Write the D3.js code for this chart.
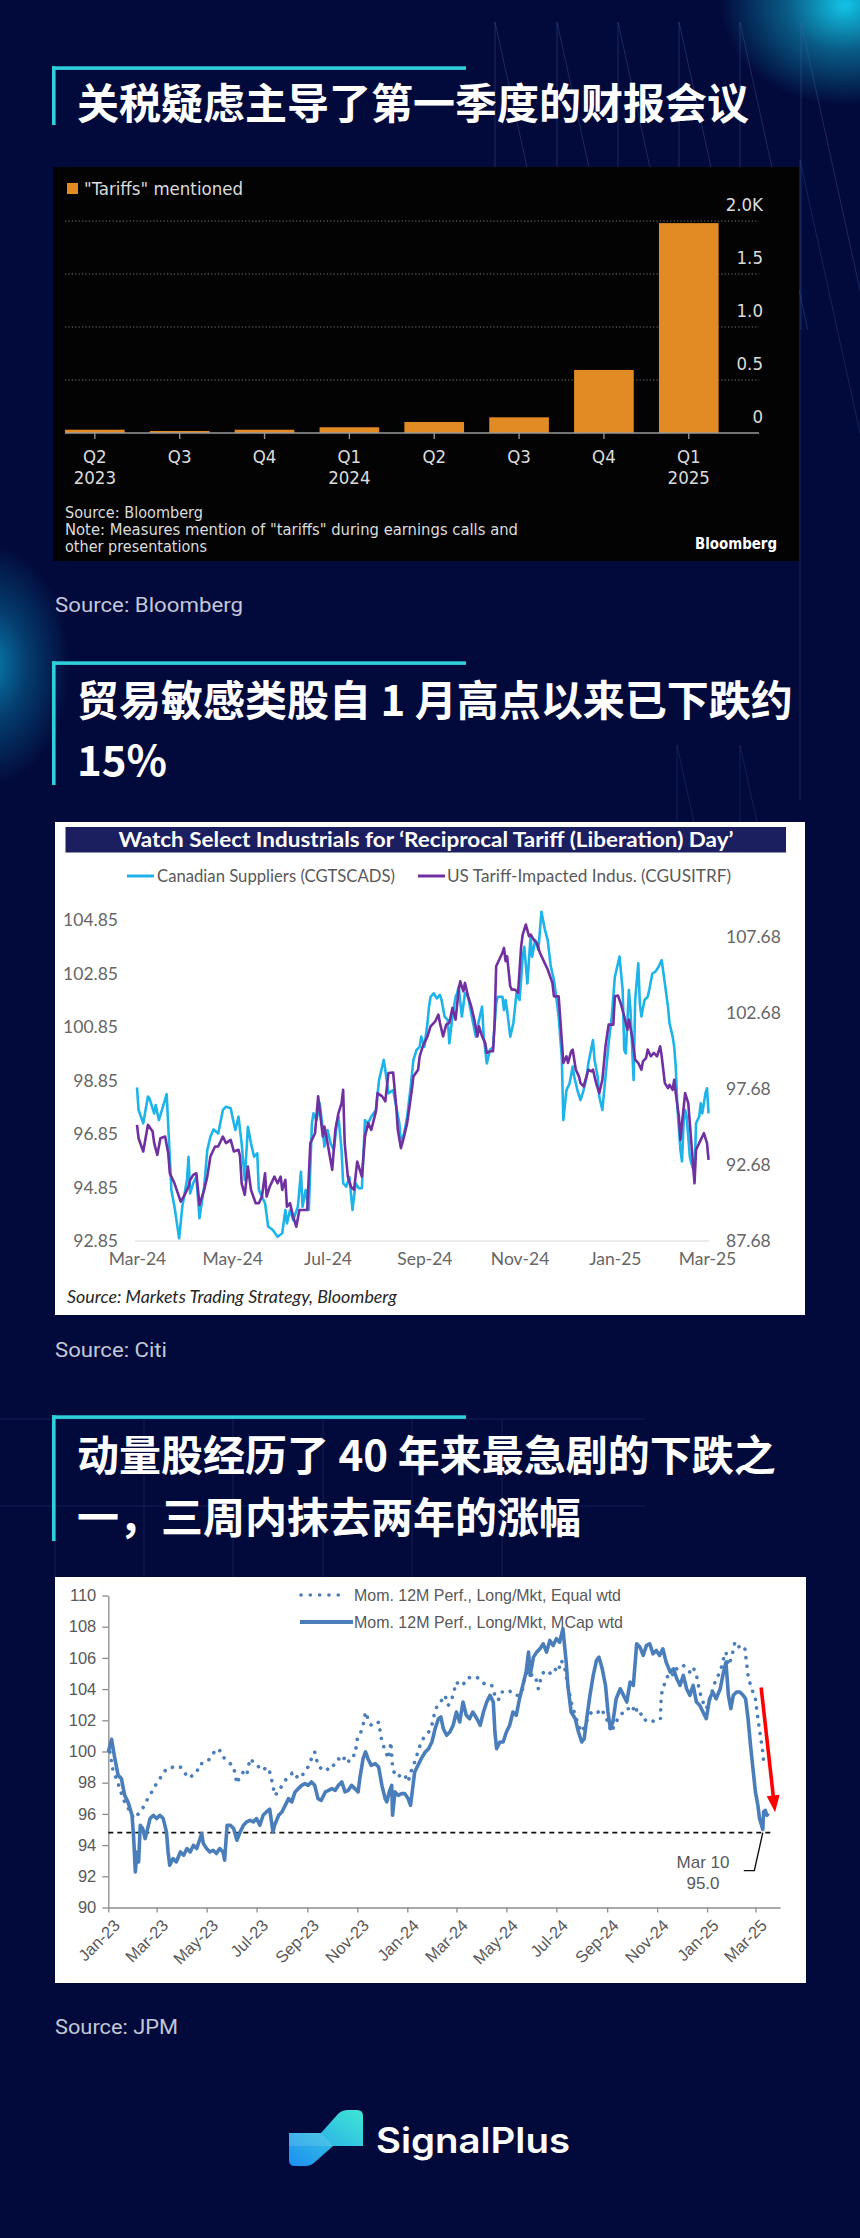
<!DOCTYPE html>
<html><head><meta charset="utf-8">
<script src="https://cdn.jsdelivr.net/npm/d3@7"></script>
<style>
html,body{margin:0;padding:0;background:#020a3b;}
svg{display:block;}
</style></head>
<body>
<svg id="page" width="860" height="2238"></svg>
<script>
// ================= DATA =================
// Chart 1 – Bloomberg: "Tariffs" mentioned during earnings calls
const tariffQuarters = ["Q2","Q3","Q4","Q1","Q2","Q3","Q4","Q1"];
const tariffYears    = ["2023","","","2024","","","","2025"];
const tariffMentions = [31, 19, 31, 54, 104, 148, 595, 1980];
const tariffTicks      = [0, 500, 1000, 1500, 2000];
const tariffTickLabels = ["0", "0.5", "1.0", "1.5", "2.0K"];

// Chart 2 – Citi: [days since citiStart, index level]
const citiStart = "2024-03-01";
const cadSuppliers = [[0,98.59],[1,97.75],[4,97.25],[7,98.25],[8,98.18],[11,97.62],[12,97.93],[14,97.37],[16,97.75],[19,98.34],[21,96.0],[22,94.76],[24,94.13],[27,92.95],[29,94.13],[32,95.13],[33,96.0],[34,94.63],[36,95.01],[38,95.25],[40,93.70],[43,94.88],[45,96.25],[47,96.75],[49,97.02],[52,96.87],[55,97.75],[57,97.87],[60,97.81],[62,97.25],[63,97.0],[65,97.5],[67,96.5],[69,95.13],[71,97.12],[73,96.5],[75,96.0],[77,96.13],[78,94.76],[80,94.51],[82,94.26],[84,93.39],[87,93.26],[90,93.01],[93,93.14],[95,94.01],[96,93.51],[98,94.01],[100,93.63],[103,94.13],[105,95.44],[106,94.13],[108,94.76],[110,94.01],[112,97.25],[113,97.62],[115,97.37],[117,98.0],[119,97.0],[120,96.38],[122,97.0],[124,96.5],[126,96.25],[128,97.25],[129,97.5],[131,96.25],[132,95.01],[134,94.88],[136,95.25],[138,94.01],[140,95.01],[142,94.82],[144,94.82],[146,97.37],[148,97.25],[150,97.5],[153,97.75],[155,98.87],[157,99.37],[158,99.62],[159,99.24],[161,98.37],[164,98.49],[166,97.87],[168,97.25],[169,96.5],[171,96.87],[173,97.5],[175,98.49],[177,99.62],[179,99.99],[181,100.11],[182,100.49],[184,100.11],[186,100.99],[187,101.61],[188,101.98],[190,102.11],[192,101.92],[194,102.05],[195,101.86],[197,101.24],[199,101.11],[200,100.24],[202,101.24],[204,101.98],[205,102.11],[206,102.36],[208,101.24],[210,102.11],[212,101.98],[214,101.36],[217,100.49],[219,101.11],[221,101.61],[222,100.49],[224,99.49],[226,99.99],[228,100.11],[230,101.73],[231,101.98],[234,101.98],[235,101.48],[236,101.86],[237,101.48],[239,100.49],[241,100.99],[243,102.11],[245,101.86],[247,103.48],[248,103.85],[250,102.48],[252,104.23],[253,103.48],[255,104.10],[257,103.73],[259,105.16],[261,104.54],[263,104.10],[265,103.10],[267,102.61],[269,101.73],[270,101.24],[272,99.74],[273,97.37],[275,98.49],[277,98.74],[279,99.37],[280,98.99],[282,98.49],[284,98.12],[286,98.49],[288,98.99],[289,99.49],[292,100.36],[293,99.62],[295,98.99],[296,98.25],[298,97.75],[300,98.99],[302,100.24],[304,101.24],[306,102.73],[309,103.48],[311,102.23],[312,99.99],[313,99.86],[315,102.23],[316,101.48],[318,98.87],[319,101.86],[321,103.23],[322,101.73],[323,101.24],[325,101.86],[327,101.98],[328,102.23],[330,102.85],[332,102.92],[334,103.10],[336,103.35],[338,102.48],[340,101.61],[341,100.99],[343,100.49],[344,100.11],[345,99.37],[346,97.87],[348,96.25],[349,95.82],[350,97.25],[351,97.75],[352,97.5],[354,96.0],[355,95.75],[357,95.38],[358,97.25],[360,97.5],[361,98.0],[362,97.62],[364,98.37],[365,98.56],[366,97.62]];
const usTariffIndus = [[0,95.31],[1,94.43],[4,93.56],[7,95.31],[10,94.87],[11,94.11],[13,93.34],[15,94.43],[18,94.54],[20,93.45],[21,92.13],[24,91.47],[28,90.27],[30,90.60],[33,91.25],[34,91.69],[36,92.02],[38,92.13],[40,90.05],[43,91.04],[45,91.91],[47,93.23],[50,93.89],[52,93.89],[55,94.54],[57,94.11],[60,94.32],[62,93.56],[65,93.67],[66,93.23],[67,91.47],[69,90.71],[71,92.57],[73,91.04],[76,90.16],[78,90.16],[80,90.60],[82,92.13],[83,90.60],[85,91.25],[88,91.91],[90,91.47],[92,91.91],[93,91.04],[95,91.69],[96,89.94],[98,90.16],[100,89.28],[102,88.62],[104,89.72],[106,89.72],[109,89.72],[111,94.11],[114,94.76],[116,97.18],[119,94.54],[120,95.20],[122,94.11],[125,92.35],[127,94.98],[129,96.08],[131,96.74],[132,97.61],[133,94.11],[135,91.91],[137,91.25],[139,91.04],[141,92.90],[142,92.57],[144,91.91],[146,94.54],[148,95.42],[150,94.98],[153,96.19],[154,97.39],[157,97.18],[159,96.85],[161,98.71],[164,98.75],[166,96.52],[167,94.98],[169,93.78],[171,94.54],[173,95.42],[176,97.61],[177,98.49],[180,98.93],[181,99.81],[183,100.47],[186,101.12],[188,101.78],[191,102.11],[193,102.55],[194,102.0],[196,101.12],[198,101.89],[200,102.0],[202,102.99],[204,102.22],[206,104.19],[207,104.74],[209,104.08],[210,104.63],[212,103.75],[214,103.10],[216,102.22],[218,101.12],[219,101.78],[221,101.12],[223,100.68],[224,100.03],[226,100.14],[228,100.14],[229,102.0],[230,105.73],[232,106.17],[234,106.61],[235,106.93],[236,106.06],[237,106.39],[239,104.41],[240,104.19],[242,104.19],[244,103.97],[246,107.04],[247,107.81],[249,108.47],[251,107.70],[252,107.81],[254,107.48],[256,107.26],[258,106.61],[261,105.95],[263,105.51],[266,104.63],[267,103.75],[270,103.75],[272,100.90],[273,99.37],[275,99.81],[276,99.37],[278,100.14],[279,100.25],[281,98.93],[283,98.49],[284,98.05],[286,97.83],[289,98.93],[291,98.82],[292,98.93],[294,98.05],[296,97.39],[298,98.27],[300,100.47],[302,101.89],[305,101.89],[306,103.75],[308,103.80],[310,103.21],[312,102.44],[314,101.56],[315,102.22],[317,101.12],[319,99.59],[321,99.37],[323,98.93],[324,99.48],[326,99.70],[327,100.25],[329,99.81],[331,100.03],[333,99.81],[335,100.47],[336,99.81],[338,98.05],[340,97.72],[341,97.94],[343,97.61],[344,98.27],[345,97.39],[347,95.86],[348,94.32],[349,95.42],[351,97.39],[353,96.74],[354,95.42],[356,92.79],[357,91.47],[358,93.67],[360,94.11],[362,94.54],[363,94.76],[365,94.11],[366,93.01]];
const citiLeftTicks  = [92.85, 94.85, 96.85, 98.85, 100.85, 102.85, 104.85];
const citiRightTicks = [87.68, 92.68, 97.68, 102.68, 107.68];
const citiMonthTicks = ["2024-03-01","2024-05-01","2024-07-01","2024-09-01","2024-11-01","2025-01-01","2025-03-01"];

// Chart 3 – JPM momentum: [days since jpmStart, level]
const jpmStart = "2023-01-01";
const momEqualWtd = [[2,99.97],[6,98.69],[10,98.26],[14,97.62],[18,96.98],[22,96.55],[27,96.13],[31,95.70],[35,95.91],[39,96.13],[43,96.45],[47,96.87],[51,97.19],[55,97.62],[59,97.94],[63,98.26],[67,98.58],[71,98.90],[75,98.90],[79,99.01],[83,98.94],[88,99.01],[92,98.69],[96,98.47],[100,98.30],[104,98.58],[108,98.69],[112,99.22],[116,99.22],[120,99.33],[124,99.54],[128,99.86],[132,100.18],[136,100.07],[140,99.65],[145,99.43],[149,99.22],[153,99.01],[157,97.94],[161,98.47],[165,98.69],[169,98.47],[173,99.54],[177,99.33],[181,99.22],[185,98.90],[189,98.79],[193,99.01],[197,98.69],[201,97.83],[203,97.19],[208,97.41],[212,97.83],[216,98.15],[220,98.37],[224,98.58],[228,98.26],[232,98.47],[236,98.37],[240,98.79],[244,99.01],[248,99.54],[252,99.97],[256,99.11],[260,98.90],[265,99.01],[269,98.79],[273,99.01],[277,99.22],[281,99.54],[285,99.33],[289,99.65],[293,99.33],[297,99.75],[301,99.75],[304,100.82],[307,101.04],[311,101.68],[314,102.53],[317,102.10],[321,101.68],[326,101.68],[330,101.89],[334,100.61],[338,100.07],[342,99.54],[345,100.61],[347,99.01],[350,98.47],[354,98.37],[358,98.58],[362,98.47],[366,98.05],[370,98.79],[374,99.33],[378,99.97],[382,100.61],[387,101.04],[391,101.25],[395,101.68],[399,102.64],[403,103.06],[407,103.28],[411,103.60],[415,102.96],[419,103.28],[425,104.45],[429,104.24],[433,104.24],[437,104.66],[443,104.77],[450,104.77],[456,104.45],[462,104.24],[468,104.24],[472,103.60],[476,103.28],[480,103.81],[484,103.81],[488,103.92],[492,103.81],[496,103.60],[500,103.60],[505,103.81],[509,104.88],[513,105.20],[517,104.88],[521,104.88],[525,104.02],[529,104.88],[533,105.20],[537,105.09],[541,104.98],[545,105.30],[549,105.09],[553,105.84],[557,105.41],[561,104.24],[565,103.17],[570,102.32],[574,101.68],[578,101.25],[582,101.68],[586,102.21],[590,102.53],[594,102.42],[598,102.53],[602,102.74],[606,102.32],[610,101.89],[614,101.25],[618,101.68],[622,102.10],[627,102.42],[631,102.74],[635,102.74],[639,102.53],[643,102.96],[647,102.32],[651,102.42],[655,102.00],[659,102.10],[663,102.00],[667,101.89],[671,102.00],[674,102.10],[675,103.60],[677,104.02],[681,104.66],[686,105.09],[690,104.88],[694,105.30],[698,105.30],[702,105.52],[706,105.30],[710,105.09],[714,105.41],[718,104.88],[722,103.81],[726,103.17],[730,102.74],[734,103.28],[738,104.02],[742,104.66],[747,105.09],[751,105.94],[754,106.37],[757,105.52],[761,106.05],[765,107.01],[769,106.69],[773,106.80],[777,106.69],[779,105.73],[781,104.88],[784,104.24],[787,103.81],[790,103.38],[793,102.10],[796,101.04],[799,99.97],[800,99.33]];
const momMcapWtd = [[0,99.97],[4,100.78],[8,99.54],[12,98.47],[16,98.26],[20,97.19],[24,96.77],[29,95.91],[31,94.42],[33,92.28],[35,93.56],[37,92.92],[39,95.27],[42,95.06],[45,94.42],[47,94.85],[51,95.70],[55,95.91],[59,95.70],[63,95.91],[67,95.70],[71,94.85],[73,93.56],[75,92.71],[79,93.14],[83,92.92],[88,93.56],[92,93.35],[96,93.78],[100,93.56],[104,93.99],[108,93.78],[112,94.42],[114,94.74],[116,94.10],[120,93.78],[124,93.56],[128,93.67],[132,93.46],[136,93.78],[140,93.56],[142,93.03],[145,95.27],[149,95.27],[153,95.06],[157,94.31],[161,94.85],[165,95.27],[169,95.49],[173,95.59],[177,95.49],[181,95.70],[185,95.27],[189,95.91],[193,96.13],[197,96.30],[201,94.85],[203,95.27],[208,95.91],[212,96.13],[216,96.55],[220,96.98],[224,96.77],[228,97.41],[232,97.62],[236,97.83],[240,97.94],[244,97.83],[248,98.05],[252,97.83],[256,96.98],[260,96.87],[265,97.41],[269,97.51],[273,97.62],[277,97.51],[281,97.83],[285,98.05],[289,97.41],[293,97.51],[297,97.83],[301,97.62],[305,97.41],[307,98.26],[311,99.54],[314,99.97],[317,99.54],[321,99.11],[326,99.22],[330,99.01],[334,97.83],[338,96.98],[340,96.77],[343,97.41],[346,97.83],[347,95.91],[350,97.41],[354,97.19],[358,97.30],[362,97.30],[366,96.98],[369,96.55],[372,97.83],[374,98.69],[378,99.11],[382,99.54],[387,99.97],[391,100.18],[395,100.61],[399,101.46],[403,102.10],[406,102.21],[409,101.46],[413,101.04],[417,101.25],[421,101.68],[425,102.53],[429,101.89],[433,103.17],[437,102.32],[441,102.10],[445,102.53],[450,102.10],[454,101.68],[458,102.53],[462,103.17],[466,103.60],[470,103.17],[472,101.25],[474,100.18],[478,100.61],[482,100.61],[486,101.25],[490,101.68],[494,102.53],[498,102.32],[502,103.38],[507,104.45],[510,105.09],[513,106.37],[515,104.88],[519,106.05],[523,106.37],[527,106.58],[531,106.90],[535,106.37],[539,107.12],[543,106.80],[547,107.23],[551,107.01],[555,107.87],[559,105.73],[561,104.24],[565,102.53],[570,102.10],[574,101.25],[578,100.61],[581,100.82],[584,102.10],[588,103.60],[592,104.88],[596,105.84],[599,106.05],[603,105.30],[607,104.24],[610,102.53],[613,101.46],[616,101.89],[620,103.38],[625,104.02],[629,103.60],[633,103.17],[637,104.45],[641,104.24],[645,106.90],[649,106.69],[653,106.16],[657,106.80],[661,106.90],[665,106.26],[669,106.48],[673,106.16],[677,106.58],[681,105.73],[686,105.09],[690,105.30],[694,104.66],[698,104.24],[702,104.88],[706,104.02],[710,103.60],[714,104.24],[718,103.17],[722,102.96],[726,102.53],[730,102.10],[734,103.38],[738,103.81],[742,103.38],[747,104.02],[751,105.09],[754,105.73],[757,103.60],[760,102.74],[763,103.60],[767,103.81],[771,103.81],[775,103.60],[778,103.38],[781,102.10],[784,100.39],[787,98.90],[790,97.41],[793,96.55],[795,95.70],[799,95.0],[800,96.13],[802,96.23],[804,95.91],[806,96.02]];
const jpmYTicks = [90, 92, 94, 96, 98, 100, 102, 104, 106, 108, 110];
const jpmMonthTicks = ["2023-01-01","2023-03-01","2023-05-01","2023-07-01","2023-09-01","2023-11-01","2024-01-01","2024-03-01","2024-05-01","2024-07-01","2024-09-01","2024-11-01","2025-01-01","2025-03-01"];
const jpmLowDate = "2025-03-10";
const jpmLowLabel = ["Mar 10", "95.0"];
const jpmDashLevel = 94.8;
const jpmArrow = [["2025-03-08", 104.1], ["2025-03-25", 96.1]];

// ================= PAGE =================
const parse = d3.timeParse("%Y-%m-%d");
const svg = d3.select("#page");
const defs = svg.append("defs");
const CJK = "'Noto Sans CJK SC','Noto Sans CJK JP',sans-serif";
const COND = "'DejaVu Sans Condensed','Liberation Sans Narrow','DejaVu Sans',sans-serif";

svg.append("rect").attr("width",860).attr("height",2238).attr("fill","#020a3b");

function radial(id, color, op) {
  const g = defs.append("radialGradient").attr("id", id);
  g.append("stop").attr("offset","0%").attr("stop-color",color).attr("stop-opacity",op);
  g.append("stop").attr("offset","45%").attr("stop-color",color).attr("stop-opacity",op*0.45);
  g.append("stop").attr("offset","100%").attr("stop-color",color).attr("stop-opacity",0);
}
radial("glowTR", "#12c4e6", 1);
radial("glowL", "#0aa6d8", 0.75);
svg.append("ellipse").attr("cx",845).attr("cy",5).attr("rx",125).attr("ry",100).attr("fill","url(#glowTR)");
svg.append("ellipse").attr("cx",-10).attr("cy",665).attr("rx",80).attr("ry",120).attr("fill","url(#glowL)");

// decorative line pattern
const deco = svg.append("g").attr("fill","none").attr("stroke","#4866a8").attr("stroke-width",0.8);
function tile(xs, y0, y1, op) {
  xs.forEach(x => {
    deco.append("line").attr("x1",x).attr("y1",y0).attr("x2",x).attr("y2",y1).attr("stroke-opacity",op);
    deco.append("line").attr("x1",x).attr("y1",y0).attr("x2",x+(y1-y0)*0.22).attr("y2",y1).attr("stroke-opacity",op);
  });
}
tile([495,557,618,679,740,801], 22, 330, 0.45);
tile([800], 160, 800, 0.35);
tile([677,740], 745, 830, 0.3);
const grid3 = svg.append("g").attr("stroke","#1e2d6a").attr("stroke-width",0.8).attr("stroke-opacity",0.8);
[55,144,233,323,412,502].forEach(x => grid3.append("line").attr("x1",x).attr("x2",x).attr("y1",1419).attr("y2",1577));
[1419,1506].forEach(y => grid3.append("line").attr("x1",0).attr("x2",645).attr("y1",y).attr("y2",y));

// headings
function heading(lineY, barBottom, lines) {
  svg.append("rect").attr("x",52).attr("y",lineY-1.7).attr("width",414).attr("height",3.6).attr("fill","#2fd0dc");
  svg.append("rect").attr("x",52).attr("y",lineY-1.7).attr("width",3.6).attr("height",barBottom-lineY+1.7).attr("fill","#2fd0dc");
  lines.forEach(l => svg.append("text").attr("x",77).attr("y",l[1]).attr("fill","#ffffff")
    .attr("font-family",CJK).attr("font-weight",700).attr("font-size",42).text(l[0]));
}
heading(68, 125, [["关税疑虑主导了第一季度的财报会议", 119]]);
heading(663, 785, [["贸易敏感类股自 1 月高点以来已下跌约", 716], ["15%", 776]]);
heading(1417, 1541, [["动量股经历了 40 年来最急剧的下跌之", 1471], ["一，三周内抹去两年的涨幅", 1533]]);

function source(txt, y, w) {
  svg.append("text").attr("x",55).attr("y",y).attr("fill","#c3c7d8").attr("font-family","Roboto,'Noto Sans',sans-serif")
    .attr("font-size",21).attr("textLength",w).attr("lengthAdjust","spacingAndGlyphs").text(txt);
}
source("Source: Bloomberg", 612, 188);
source("Source: Citi", 1357, 112);
source("Source: JPM", 2034, 123);

// ================= CHART 1 =================
const c1 = svg.append("g").attr("font-family",COND).attr("font-stretch","condensed");
c1.append("rect").attr("x",53).attr("y",167).attr("width",746).attr("height",394).attr("fill","#030303");
const x1 = d3.scaleBand().domain(d3.range(tariffMentions.length)).range([65,718.6]).paddingInner(0.297).paddingOuter(0);
const y1 = d3.scaleLinear().domain([0,2000]).range([433,221]);
c1.selectAll(".grid").data(tariffTicks.slice(1)).join("line")
  .attr("x1",65).attr("x2",759).attr("y1",d=>y1(d)).attr("y2",d=>y1(d))
  .attr("stroke","#777").attr("stroke-width",1).attr("stroke-dasharray","1.2,2.2");
c1.selectAll(".bar").data(tariffMentions).join("rect")
  .attr("x",(d,i)=>x1(i)).attr("width",x1.bandwidth())
  .attr("y",d=>y1(d)).attr("height",d=>y1(0)-y1(d)).attr("fill","#e28b25");
c1.append("line").attr("x1",65).attr("x2",759).attr("y1",y1(0)).attr("y2",y1(0)).attr("stroke","#9a9a9a").attr("stroke-width",1.5);
c1.selectAll(".tk").data(tariffMentions).join("line")
  .attr("x1",(d,i)=>x1(i)+x1.bandwidth()/2).attr("x2",(d,i)=>x1(i)+x1.bandwidth()/2)
  .attr("y1",y1(0)).attr("y2",y1(0)+6).attr("stroke","#9a9a9a").attr("stroke-width",1.3);
c1.selectAll(".ql").data(tariffQuarters).join("text")
  .attr("x",(d,i)=>x1(i)+x1.bandwidth()/2).attr("y",463).attr("text-anchor","middle")
  .attr("fill","#dcdcdc").attr("font-size",18.5).text(d=>d);
c1.selectAll(".yl").data(tariffYears).join("text")
  .attr("x",(d,i)=>x1(i)+x1.bandwidth()/2).attr("y",484).attr("text-anchor","middle")
  .attr("fill","#dcdcdc").attr("font-size",18.5).text(d=>d);
c1.selectAll(".yt").data(tariffTicks).join("text")
  .attr("x",763).attr("y",d=>y1(d)-10).attr("text-anchor","end")
  .attr("fill","#dcdcdc").attr("font-size",18.5).text((d,i)=>tariffTickLabels[i]);
c1.append("rect").attr("x",67).attr("y",183).attr("width",11).attr("height",11).attr("fill","#e28b25");
c1.append("text").attr("x",84).attr("y",195).attr("fill","#dcdcdc").attr("font-size",18).attr("textLength",159).attr("lengthAdjust","spacingAndGlyphs").text('"Tariffs" mentioned');
[["Source: Bloomberg",518,138],['Note: Measures mention of "tariffs" during earnings calls and',535,453],["other presentations",552,142]]
  .forEach(s => c1.append("text").attr("x",65).attr("y",s[1]).attr("fill","#dcdcdc").attr("font-size",16.5)
    .attr("textLength",s[2]).attr("lengthAdjust","spacingAndGlyphs").text(s[0]));
c1.append("text").attr("x",777).attr("y",549).attr("text-anchor","end").attr("fill","#ffffff")
  .attr("font-size",16.5).attr("font-weight",700).attr("textLength",82).attr("lengthAdjust","spacingAndGlyphs").text("Bloomberg");

// ================= CHART 2 =================
const LATO = "Lato,'Open Sans',sans-serif";
const c2 = svg.append("g").attr("font-family",LATO);
c2.append("rect").attr("x",55).attr("y",822).attr("width",750).attr("height",493).attr("fill","#ffffff");
c2.append("rect").attr("x",65.5).attr("y",827).attr("width",720.5).attr("height",25.5).attr("fill","#1b1f5f");
c2.append("text").attr("x",426).attr("y",847).attr("text-anchor","middle").attr("fill","#fff")
  .attr("font-weight",700).attr("font-size",20).attr("textLength",615).attr("lengthAdjust","spacingAndGlyphs")
  .text("Watch Select Industrials for \u2018Reciprocal Tariff (Liberation) Day\u2019");
const t0 = parse(citiStart);
const x2 = d3.scaleTime().domain([parse("2024-03-01"), parse("2025-03-01")]).range([137, 707]);
const yL = d3.scaleLinear().domain([92.85, 104.85]).range([1241, 920]);
const yR = d3.scaleLinear().domain([87.68, 107.68]).range([1241, 936.5]);
c2.append("line").attr("x1",135).attr("x2",709).attr("y1",yL(92.85)).attr("y2",yL(92.85)).attr("stroke","#d9d9d9").attr("stroke-width",1.2);
const axL = c2.append("g").attr("transform","translate(118,0)").call(d3.axisLeft(yL).tickValues(citiLeftTicks).tickSize(0).tickPadding(0).tickFormat(d3.format(".2f")));
const axR = c2.append("g").attr("transform","translate(726,0)").call(d3.axisRight(yR).tickValues(citiRightTicks).tickSize(0).tickPadding(0).tickFormat(d3.format(".2f")));
const axB = c2.append("g").attr("transform","translate(0,1253)").call(d3.axisBottom(x2).tickValues(citiMonthTicks.map(parse)).tickSize(0).tickPadding(0).tickFormat(d3.timeFormat("%b-%y")));
[axL, axR, axB].forEach(a => { a.select(".domain").remove(); a.selectAll("text").attr("fill","#666").attr("font-family",LATO).attr("font-size",17.5); });
const line2L = d3.line().x(d=>x2(d3.timeDay.offset(t0,d[0]))).y(d=>yL(d[1]));
const line2R = d3.line().x(d=>x2(d3.timeDay.offset(t0,d[0]))).y(d=>yR(d[1]));
c2.append("path").datum(cadSuppliers).attr("d",line2L).attr("fill","none").attr("stroke","#1eb4e9").attr("stroke-width",2.6).attr("stroke-linejoin","round");
c2.append("path").datum(usTariffIndus).attr("d",line2R).attr("fill","none").attr("stroke","#7030a0").attr("stroke-width",2.6).attr("stroke-linejoin","round");
c2.append("line").attr("x1",127).attr("x2",154).attr("y1",876).attr("y2",876).attr("stroke","#1eb4e9").attr("stroke-width",3);
c2.append("text").attr("x",157).attr("y",882).attr("fill","#595959").attr("font-size",17).attr("textLength",238).attr("lengthAdjust","spacingAndGlyphs").text("Canadian Suppliers (CGTSCADS)");
c2.append("line").attr("x1",418).attr("x2",445).attr("y1",876).attr("y2",876).attr("stroke","#7030a0").attr("stroke-width",3);
c2.append("text").attr("x",447).attr("y",882).attr("fill","#595959").attr("font-size",17).attr("textLength",284).attr("lengthAdjust","spacingAndGlyphs").text("US Tariff-Impacted Indus. (CGUSITRF)");
c2.append("text").attr("x",67).attr("y",1303).attr("fill","#262626").attr("font-style","italic").attr("font-size",17)
  .attr("textLength",330).attr("lengthAdjust","spacingAndGlyphs").text("Source: Markets Trading Strategy, Bloomberg");

// ================= CHART 3 =================
const ARIAL = "'Liberation Sans',Arial,sans-serif";
const c3 = svg.append("g").attr("font-family",ARIAL);
c3.append("rect").attr("x",55).attr("y",1577).attr("width",751).attr("height",406).attr("fill","#ffffff");
const j0 = parse(jpmStart);
const x3 = d3.scaleTime().domain([parse("2023-01-01"), parse("2025-03-31")]).range([108.3, 780]);
const y3 = d3.scaleLinear().domain([90, 110]).range([1907.5, 1595.5]);
const ax3L = c3.append("g").attr("transform","translate(108.3,0)").call(d3.axisLeft(y3).tickValues(jpmYTicks).tickSize(6).tickSizeOuter(0).tickPadding(6));
const ax3B = c3.append("g").attr("transform","translate(0,1907.5)").call(d3.axisBottom(x3).tickValues(jpmMonthTicks.map(parse)).tickSize(5).tickSizeOuter(0).tickFormat(d3.timeFormat("%b-%y")));
[ax3L, ax3B].forEach(a => {
  a.select(".domain").attr("stroke","#8c8c8c").attr("stroke-width",1.3);
  a.selectAll(".tick line").attr("stroke","#8c8c8c").attr("stroke-width",1.3);
  a.selectAll("text").attr("fill","#595959").attr("font-family",ARIAL).attr("font-size",16.5);
});
ax3B.selectAll("text").attr("y",0).attr("x",0).attr("dy","0.35em").attr("text-anchor","end")
  .attr("transform","translate(8,15) rotate(-45)");
c3.append("line").attr("x1",x3(parse("2023-01-01"))).attr("x2",771).attr("y1",y3(jpmDashLevel)).attr("y2",y3(jpmDashLevel))
  .attr("stroke","#111").attr("stroke-width",1.8).attr("stroke-dasharray","5,4");
// legend
c3.append("line").attr("x1",301).attr("x2",347).attr("y1",1595).attr("y2",1595).attr("stroke","#4a7ebb")
  .attr("stroke-width",3.6).attr("stroke-linecap","round").attr("stroke-dasharray","0.1,9.2");
c3.append("text").attr("x",354).attr("y",1601).attr("fill","#595959").attr("font-size",17).attr("textLength",267).attr("lengthAdjust","spacingAndGlyphs").text("Mom. 12M Perf., Long/Mkt, Equal wtd");
c3.append("line").attr("x1",300).attr("x2",353).attr("y1",1622).attr("y2",1622).attr("stroke","#4a7ebb").attr("stroke-width",4);
c3.append("text").attr("x",354).attr("y",1628).attr("fill","#595959").attr("font-size",17).attr("textLength",269).attr("lengthAdjust","spacingAndGlyphs").text("Mom. 12M Perf., Long/Mkt, MCap wtd");
const line3 = d3.line().x(d=>x3(d3.timeDay.offset(j0,d[0]))).y(d=>y3(d[1]));
c3.append("path").datum(momEqualWtd).attr("d",line3).attr("fill","none").attr("stroke","#4a7ebb")
  .attr("stroke-width",3.6).attr("stroke-linecap","round").attr("stroke-dasharray","0.1,8.5");
c3.append("path").datum(momMcapWtd).attr("d",line3).attr("fill","none").attr("stroke","#4a7ebb")
  .attr("stroke-width",3.6).attr("stroke-linejoin","round");
// red arrow
const a0 = [x3(parse(jpmArrow[0][0])), y3(jpmArrow[0][1])];
const a1 = [x3(parse(jpmArrow[1][0])), y3(jpmArrow[1][1])];
const dx = a1[0]-a0[0], dy = a1[1]-a0[1], L = Math.hypot(dx,dy), ux = dx/L, uy = dy/L;
const base = [a1[0]-ux*17, a1[1]-uy*17];
c3.append("line").attr("x1",a0[0]).attr("y1",a0[1]).attr("x2",base[0]+ux*2).attr("y2",base[1]+uy*2).attr("stroke","#ff0000").attr("stroke-width",3.6);
c3.append("polygon").attr("points",[a1, [base[0]-uy*6.5, base[1]+ux*6.5], [base[0]+uy*6.5, base[1]-ux*6.5]].map(p=>p.join(",")).join(" ")).attr("fill","#ff0000");
// annotation
const lx = x3(parse(jpmLowDate)), ly = y3(jpmDashLevel);
c3.append("polyline").attr("points",`${lx},${ly} ${lx-8.5},${ly+38} ${lx-19},${ly+38}`).attr("fill","none").attr("stroke","#111").attr("stroke-width",1.4);
c3.append("text").attr("x",703).attr("y",1868).attr("text-anchor","middle").attr("fill","#595959").attr("font-size",17).text(jpmLowLabel[0]);
c3.append("text").attr("x",703).attr("y",1889).attr("text-anchor","middle").attr("fill","#595959").attr("font-size",17).text(jpmLowLabel[1]);

// ================= LOGO =================
const lg = defs.append("linearGradient").attr("id","logoG").attr("x1","1").attr("y1","0").attr("x2","0").attr("y2","1");
lg.append("stop").attr("offset","0%").attr("stop-color","#3fe8d4");
lg.append("stop").attr("offset","100%").attr("stop-color","#1f8ef2");
svg.append("path").attr("d","M289 2133 L321 2133 L338 2114 Q342 2110 348 2110 L357 2110 Q363 2110 363 2116 L363 2146 L333 2146 L315 2162 Q311 2166 305 2166 L295 2166 Q289 2166 289 2160 Z")
  .attr("fill","url(#logoG)");
svg.append("path").attr("d","M289 2146 L333 2146 L321 2133 L289 2133 Z").attr("fill","#ffffff").attr("fill-opacity",0.12);
svg.append("text").attr("x",376).attr("y",2153).attr("fill","#ffffff").attr("font-family","Inter,'Noto Sans',sans-serif")
  .attr("font-weight",600).attr("font-size",35).attr("textLength",194).attr("lengthAdjust","spacingAndGlyphs").text("SignalPlus");
</script>
</body></html>
